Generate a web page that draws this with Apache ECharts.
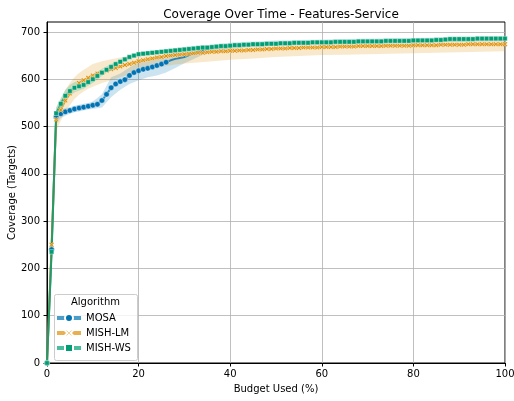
<!DOCTYPE html>
<html><head><meta charset="utf-8">
<script src="https://cdn.jsdelivr.net/npm/echarts@6/dist/echarts.min.js"></script>
<style>html,body{margin:0;padding:0;background:#fff}#c{width:514px;height:401px}</style>
</head><body><div id="c"></div>
<script>
const budget = Array.from({length: 101}, (_, i) => i);
const mosa = [0,240,520,527,531,534,537,539,541,543,
  545,547,555,568,582,590,595,599,608,614,
  618,621,623,626,629,632,636,640,643,645,
  647,651,655,658,661,664,666,667,668,669,
  670,671,672,672,673,674,674,675,675,676,
  676,676,677,677,677,677,678,678,678,678,
  679,679,679,679,679,680,680,680,680,680,
  680,681,681,681,681,681,681,681,682,682,
  682,682,682,682,682,682,683,683,683,683,
  683,683,683,684,684,684,684,684,684,684,684];
const mishLM = [0,250,515,535,555,570,582,592,598,603,
  608,612,615,618,621,624,627,630,632,635,
  638,640,642,644,646,647,649,650,651,652,
  653,654,655,656,656,657,658,658,659,659,
  660,660,661,661,662,662,663,663,664,664,
  665,665,665,666,666,666,667,667,667,667,
  668,668,668,668,669,669,669,669,670,670,
  670,670,670,670,671,671,671,671,671,671,
  672,672,672,672,672,672,673,673,673,673,
  673,673,674,674,674,674,674,674,674,674,674];
const mishWS = [0,235,528,548,565,575,582,585,588,594,
  600,607,614,620,626,632,637,642,647,650,
  653,654,655,656,657,658,659,660,661,662,
  663,664,665,666,667,667,668,669,670,670,
  671,672,672,673,673,674,674,674,675,675,
  675,676,676,676,677,677,677,677,678,678,
  678,678,678,679,679,679,679,679,680,680,
  680,680,680,680,681,681,681,681,681,681,
  682,682,682,682,682,683,683,684,685,685,
  685,685,685,685,686,686,686,686,686,686,686];
const mosaMarkerUntil = 26;

const bandX = [0,1,2,3,4,5,6,7,8,9,10,12,14,16,18,20,22,24,26,28,30,35,40,45,50,55,60,65,70,75,80,85,90,95,100];
const mosaLow  = [0,210,505,518,523,527,530,532,534,536,537,540,562,578,590,598,604,608,614,624,634,656,664,668,670,672,673,674,675,676,677,678,679,680,680];
const mosaHigh = [0,270,535,536,539,541,544,546,548,550,553,568,604,612,625,637,641,645,651,658,662,672,677,680,682,683,684,685,686,686,687,688,688,689,689];
const lmLow  = [0,210,490,512,530,545,558,567,574,580,584,592,598,604,610,615,620,624,628,631,633,637,641,644,647,649,651,652,653,654,655,656,657,658,659];
const lmHigh = [0,290,540,558,578,592,604,613,620,626,632,638,642,646,650,655,658,661,663,665,667,670,672,674,676,677,678,680,681,682,683,684,685,686,686];
const wsLow  = [0,200,505,535,552,565,572,576,580,586,592,607,620,632,642,649,651,653,655,657,659,663,668,671,672,674,675,676,677,678,679,680,682,683,683];
const wsHigh = [0,270,540,560,578,588,594,597,600,604,610,622,632,642,650,657,659,661,663,665,667,671,674,677,678,680,681,682,683,684,685,686,688,689,689];

const xTicks = [0,20,40,60,80,100];
const yTicks = [0,100,200,300,400,500,600,700];

const FONT = 'DejaVu Sans';
const COLORS = {MOSA: '#0173b2', 'MISH-LM': '#de8f05', 'MISH-WS': '#029e73'};
const FILLS = {MOSA: 'rgba(1,115,178,0.2)', 'MISH-LM': 'rgba(222,143,5,0.2)', 'MISH-WS': 'rgba(2,158,115,0.2)'};
const XSYM = 'path://M2,0L5,3L8,0L10,2L7,5L10,8L8,10L5,7L2,10L0,8L3,5L0,2Z';

function bandSeries(name, low, high) {
  return {
    type: 'custom', name: 'band-' + name, silent: true, z: 1,
    data: bandX.map((x, i) => [x, low[i], high[i]]),
    encode: {x: 0, y: [1, 2]},
    renderItem: function (params, api) {
      if (params.dataIndex !== 0) return null;
      const pts = [];
      for (let i = 0; i < bandX.length; i++) pts.push(api.coord([bandX[i], high[i]]));
      for (let i = bandX.length - 1; i >= 0; i--) pts.push(api.coord([bandX[i], low[i]]));
      return {type: 'polygon', shape: {points: pts}, style: {fill: FILLS[name], stroke: null}};
    }
  };
}
function meanSeries(name, vals, symbol, size, until) {
  return {
    type: 'line', name: name, symbol: symbol, symbolSize: size, showAllSymbol: true,
    lineStyle: {color: COLORS[name], width: 2, opacity: 0.8},
    itemStyle: {color: COLORS[name], borderColor: '#fff', borderWidth: 0.4},
    data: budget.map((x, i) => {
      const d = {value: [x, vals[i]]};
      if (until != null && x > until) d.symbol = 'none';
      return d;
    }),
    z: 3
  };
}

const series = [
  meanSeries('MOSA', mosa, 'circle', 5.5, mosaMarkerUntil),
  bandSeries('MOSA', mosaLow, mosaHigh),
  meanSeries('MISH-LM', mishLM, XSYM, 5),
  bandSeries('MISH-LM', lmLow, lmHigh),
  meanSeries('MISH-WS', mishWS, 'rect', 4.5),
  bandSeries('MISH-WS', wsLow, wsHigh)
];

const chart = echarts.init(document.getElementById('c'), null, {renderer: 'canvas'});
chart.setOption({
  animation: false,
  backgroundColor: '#fff',
  textStyle: {fontFamily: FONT},
  title: {text: 'Coverage Over Time - Features-Service', left: 276, top: 4, textAlign: 'center',
    textStyle: {fontFamily: FONT, fontSize: 12, fontWeight: 'normal', color: '#000'}},
  grid: {left: 47, right: 9, top: 22, bottom: 38, outerBoundsMode: 'none', containLabel: false,
    show: true, borderColor: '#000', borderWidth: 1, backgroundColor: 'transparent'},
  xAxis: {type: 'value', min: 0, max: 100, interval: 20,
    name: 'Budget Used (%)', nameLocation: 'middle', nameGap: 21, nameMoveOverlap: false,
    nameTextStyle: {fontFamily: FONT, fontSize: 10, color: '#000'},
    axisLine: {lineStyle: {color: '#000', width: 1}},
    axisTick: {length: 3.5, lineStyle: {color: '#000'}, customValues: xTicks},
    axisLabel: {fontFamily: FONT, fontSize: 10, color: '#000', margin: 6, customValues: xTicks},
    splitLine: {show: true, lineStyle: {color: '#b0b0b0', width: 0.8}}},
  yAxis: {type: 'value', min: 0, max: 721, interval: 100,
    name: 'Coverage (Targets)', nameLocation: 'middle', nameGap: 30, nameRotate: 90, nameMoveOverlap: false,
    nameTextStyle: {fontFamily: FONT, fontSize: 10, color: '#000'},
    axisLine: {show: true, lineStyle: {color: '#000', width: 1}},
    axisTick: {show: true, length: 3.5, lineStyle: {color: '#000'}, customValues: yTicks},
    axisLabel: {fontFamily: FONT, fontSize: 10, color: '#000', margin: 7, customValues: yTicks},
    splitLine: {show: true, lineStyle: {color: '#b0b0b0', width: 0.8}}},
  legend: {data: ['MOSA', 'MISH-LM', 'MISH-WS'], orient: 'vertical', left: 55, top: 313, z: 20,
    itemWidth: 24, itemHeight: 10, itemGap: 5, padding: 0,
    lineStyle: {width: 4, opacity: 0.7},
    textStyle: {fontFamily: FONT, fontSize: 10, color: '#000'}},
  graphic: [
    {type: 'rect', left: 54, top: 294, shape: {width: 83, height: 66, r: 2}, z: 10,
     style: {fill: 'rgba(255,255,255,0.8)', stroke: '#cccccc', lineWidth: 1}},
    {type: 'text', left: 71, top: 297, z: 11,
     style: {text: 'Algorithm', fontFamily: FONT, fontSize: 10, fill: '#000'}}
  ],
  series: series
});
</script>
</body></html>
